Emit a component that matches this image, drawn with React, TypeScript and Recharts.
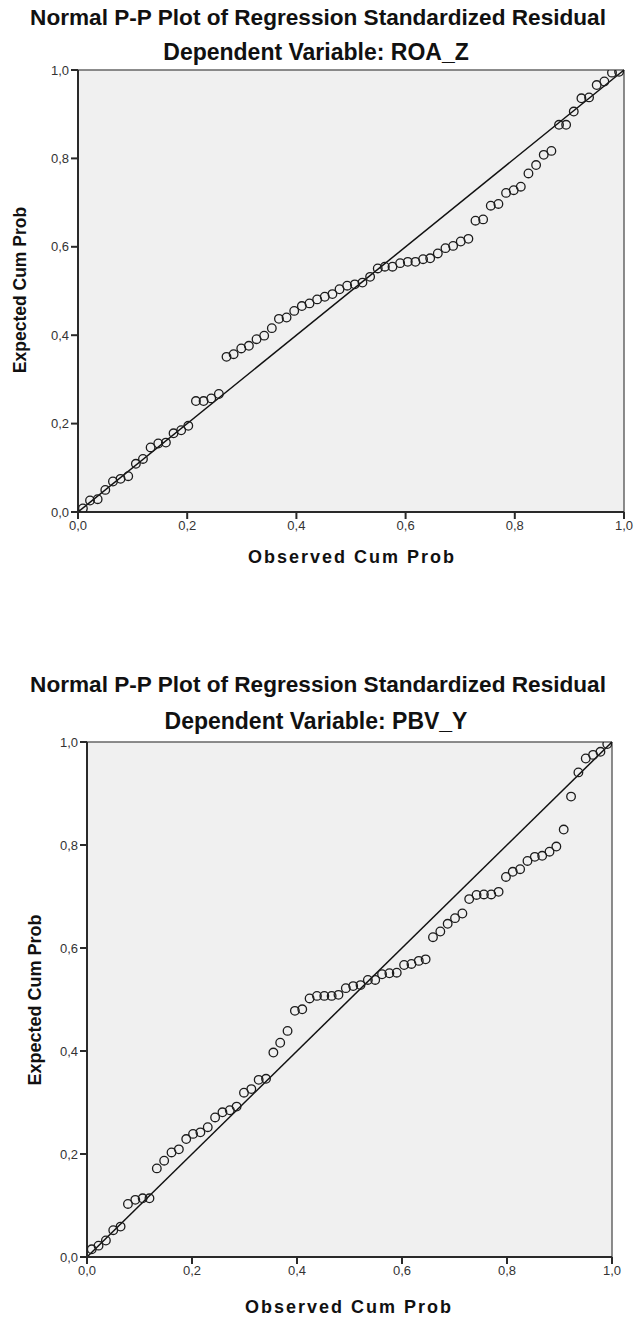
import React from 'react';
import { ScatterChart, Scatter, XAxis, YAxis, CartesianGrid, ReferenceLine } from 'recharts';

const observedCumProb = [
  0.009, 0.022, 0.036, 0.050, 0.064, 0.078, 0.092, 0.106, 0.119, 0.133,
  0.147, 0.161, 0.175, 0.189, 0.202, 0.216, 0.230, 0.244, 0.258, 0.272,
  0.285, 0.299, 0.313, 0.327, 0.341, 0.355, 0.368, 0.382, 0.396, 0.410,
  0.424, 0.438, 0.452, 0.466, 0.479, 0.493, 0.507, 0.521, 0.535, 0.549,
  0.562, 0.576, 0.590, 0.604, 0.618, 0.632, 0.645, 0.659, 0.673, 0.687,
  0.701, 0.715, 0.728, 0.742, 0.756, 0.770, 0.784, 0.798, 0.811, 0.825,
  0.839, 0.853, 0.867, 0.881, 0.894, 0.908, 0.922, 0.936, 0.950, 0.964,
  0.978, 0.991,
];

const roaExpectedCumProb = [
  0.008, 0.026, 0.029, 0.050, 0.069, 0.075, 0.081, 0.109, 0.120, 0.146,
  0.155, 0.157, 0.178, 0.185, 0.195, 0.251, 0.251, 0.257, 0.267, 0.351,
  0.357, 0.370, 0.376, 0.391, 0.399, 0.416, 0.437, 0.440, 0.455, 0.466,
  0.472, 0.481, 0.487, 0.493, 0.504, 0.512, 0.515, 0.519, 0.532, 0.551,
  0.555, 0.555, 0.563, 0.566, 0.566, 0.572, 0.574, 0.585, 0.597, 0.602,
  0.612, 0.618, 0.659, 0.662, 0.693, 0.697, 0.722, 0.728, 0.736, 0.766,
  0.785, 0.808, 0.817, 0.876, 0.876, 0.906, 0.936, 0.938, 0.966, 0.974,
  0.994, 0.996,
];

const pbvExpectedCumProb = [
  0.015, 0.022, 0.032, 0.052, 0.059, 0.103, 0.111, 0.114, 0.114, 0.172,
  0.187, 0.203, 0.209, 0.229, 0.239, 0.242, 0.252, 0.271, 0.281, 0.285,
  0.292, 0.319, 0.326, 0.344, 0.346, 0.397, 0.416, 0.439, 0.478, 0.481,
  0.502, 0.507, 0.507, 0.507, 0.509, 0.522, 0.526, 0.528, 0.538, 0.538,
  0.549, 0.551, 0.552, 0.567, 0.569, 0.575, 0.578, 0.621, 0.632, 0.647,
  0.658, 0.667, 0.695, 0.703, 0.704, 0.704, 0.709, 0.738, 0.748, 0.753,
  0.769, 0.777, 0.779, 0.787, 0.797, 0.830, 0.894, 0.941, 0.968, 0.975,
  0.981, 0.996,
];

const axisTicks = [0, 0.2, 0.4, 0.6, 0.8, 1];
const axisTickLabels = ['0,0', '0,2', '0,4', '0,6', '0,8', '1,0'];

const mainTitle = 'Normal P-P Plot of Regression Standardized Residual';
const subTitles = ['Dependent Variable: ROA_Z', 'Dependent Variable: PBV_Y'];
const xTitle = 'Observed Cum Prob';
const yTitle = 'Expected Cum Prob';

const roaData = observedCumProb.map((x, i) => ({ x, y: roaExpectedCumProb[i] }));
const pbvData = observedCumProb.map((x, i) => ({ x, y: pbvExpectedCumProb[i] }));

const fmt = (v: number) => {
  const idx = axisTicks.findIndex((t) => Math.abs(t - v) < 1e-9);
  return idx >= 0 ? axisTickLabels[idx] : String(v);
};

const OpenCircle = (props: any) => {
  const { cx, cy } = props;
  if (cx == null || cy == null) return null;
  return <circle cx={cx} cy={cy} r={4.3} fill="none" stroke="#1c1c1c" strokeWidth={1.3} />;
};

const FONT = '"Liberation Sans", Arial, sans-serif';

type PanelProps = {
  top: number;
  height: number;
  margin: { top: number; right: number; bottom: number; left: number };
  data: { x: number; y: number }[];
  subTitle: string;
  titleY: number;
  subY: number;
  yTitlePos: [number, number];
  yTitleSize: number;
  xTitlePos: [number, number];
};

const Panel = (p: PanelProps) => {
  const tickStyle = { fontSize: 13, fill: '#333', fontFamily: FONT };
  return (
    <>
      <div
        style={{
          position: 'absolute', left: 318, top: p.titleY, transform: 'translate(-50%,-50%)',
          whiteSpace: 'nowrap', fontFamily: FONT, fontWeight: 'bold', fontSize: 22.6, color: '#111',
        }}
      >
        {mainTitle}
      </div>
      <div
        style={{
          position: 'absolute', left: 316, top: p.subY, transform: 'translate(-50%,-50%)',
          whiteSpace: 'nowrap', fontFamily: FONT, fontWeight: 'bold', fontSize: 23, color: '#111',
        }}
      >
        {p.subTitle}
      </div>
      <div
        style={{
          position: 'absolute', left: p.yTitlePos[0], top: p.yTitlePos[1],
          transform: 'translate(-50%,-50%) rotate(-90deg)', whiteSpace: 'nowrap',
          fontFamily: FONT, fontWeight: 'bold', fontSize: p.yTitleSize, color: '#111',
        }}
      >
        {yTitle}
      </div>
      <div
        style={{
          position: 'absolute', left: p.xTitlePos[0], top: p.xTitlePos[1],
          transform: 'translate(-50%,-50%)', whiteSpace: 'nowrap',
          fontFamily: FONT, fontWeight: 'bold', fontSize: 18, letterSpacing: 2, color: '#111',
        }}
      >
        {xTitle}
      </div>
      <div style={{ position: 'absolute', left: 0, top: p.top }}>
        <ScatterChart width={634} height={p.height} margin={p.margin}>
          <CartesianGrid fill="#f0f0f0" horizontal={false} vertical={false} />
          <XAxis
            type="number"
            dataKey="x"
            domain={[0, 1]}
            ticks={axisTicks}
            tickFormatter={fmt}
            height={30}
            tickSize={7}
            tick={tickStyle}
            axisLine={{ stroke: '#2a2a2a', strokeWidth: 2 }}
            tickLine={{ stroke: '#2a2a2a', strokeWidth: 2 }}
            allowDataOverflow
          />
          <YAxis
            type="number"
            dataKey="y"
            domain={[0, 1]}
            ticks={axisTicks}
            tickFormatter={fmt}
            width={45}
            tickSize={7}
            tick={tickStyle}
            axisLine={{ stroke: '#2a2a2a', strokeWidth: 2 }}
            tickLine={{ stroke: '#2a2a2a', strokeWidth: 2 }}
            allowDataOverflow
          />
          <ReferenceLine y={1} stroke="#666" strokeWidth={1.5} />
          <ReferenceLine x={1} stroke="#666" strokeWidth={1.5} />
          <ReferenceLine
            segment={[{ x: 0, y: 0 }, { x: 1, y: 1 }]}
            stroke="#111"
            strokeWidth={1.5}
          />
          <Scatter data={p.data} shape={OpenCircle} isAnimationActive={false} />
        </ScatterChart>
      </div>
    </>
  );
};

export default function App() {
  return (
    <div style={{ position: 'absolute', left: 0, top: 0, width: 634, height: 1318, background: '#fff' }}>
      <Panel
        top={0}
        height={590}
        margin={{ top: 70, right: 10, bottom: 48, left: 33 }}
        data={roaData}
        subTitle={subTitles[0]}
        titleY={18}
        subY={52}
        yTitlePos={[20, 290]}
        yTitleSize={17.5}
        xTitlePos={[352, 557]}
      />
      <Panel
        top={660}
        height={658}
        margin={{ top: 82, right: 22, bottom: 31, left: 42 }}
        data={pbvData}
        subTitle={subTitles[1]}
        titleY={685}
        subY={721}
        yTitlePos={[35, 1000]}
        yTitleSize={18}
        xTitlePos={[349, 1307]}
      />
    </div>
  );
}
